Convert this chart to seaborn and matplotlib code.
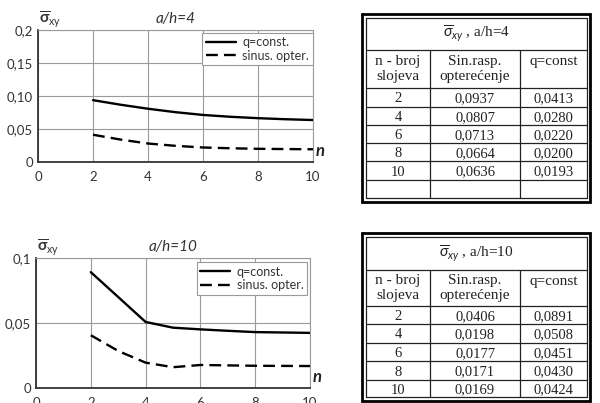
# Shear stress sigma_xy vs number of layers n, for a/h=4 and a/h=10, with value tables.

import matplotlib
matplotlib.use("Agg")
import matplotlib.pyplot as plt
import seaborn as sns

# curves (n = number of layers)
n_layers = [2, 3, 4, 5, 6, 7, 8, 9, 10]
q_const_ah4 = [0.0937, 0.0868, 0.0807, 0.0755, 0.0713, 0.0685, 0.0664, 0.0648, 0.0636]
sinus_ah4 = [0.0413, 0.0340, 0.0280, 0.0245, 0.0220, 0.0208, 0.0200, 0.0196, 0.0193]
q_const_ah10 = [0.0891, 0.0700, 0.0508, 0.0464, 0.0451, 0.0440, 0.0430, 0.0427, 0.0424]
sinus_ah10 = [0.0406, 0.0285, 0.0195, 0.0160, 0.0177, 0.0174, 0.0171, 0.0170, 0.0169]

x_ticks = [0, 2, 4, 6, 8, 10]
y_ticks_ah4 = [0, 0.05, 0.10, 0.15, 0.2]
y_labels_ah4 = ["0", "0,05", "0,10", "0,15", "0,2"]
y_ticks_ah10 = [0, 0.05, 0.1]
y_labels_ah10 = ["0", "0,05", "0,1"]

# tables
table_n = ["2", "4", "6", "8", "10"]
table_sin_ah4 = ["0,0937", "0,0807", "0,0713", "0,0664", "0,0636"]
table_q_ah4 = ["0,0413", "0,0280", "0,0220", "0,0200", "0,0193"]
table_sin_ah10 = ["0,0406", "0,0198", "0,0177", "0,0171", "0,0169"]
table_q_ah10 = ["0,0891", "0,0508", "0,0451", "0,0430", "0,0424"]

sns.set_style("white")
plt.rcParams["font.family"] = ["Lato", "DejaVu Sans"]
plt.rcParams["mathtext.fontset"] = "custom"
plt.rcParams["mathtext.rm"] = "Lato"
plt.rcParams["mathtext.it"] = "Lato:italic"
plt.rcParams["mathtext.bf"] = "Lato:bold"

W, H = 600, 403
fig = plt.figure(figsize=(6.0, 4.03), dpi=100)


def px_axes(left, top, right, bottom):
    return fig.add_axes([left / W, 1 - bottom / H, (right - left) / W, (bottom - top) / H])


def draw_chart(ax, q_vals, s_vals, yticks, ylabels, ymax, title, legend_anchor):
    sns.lineplot(x=n_layers, y=q_vals, ax=ax, color="black", linewidth=1.7, label="q=const.")
    sns.lineplot(x=n_layers, y=s_vals, ax=ax, color="black", linewidth=1.7, label="sinus. opter.")
    ax.lines[1].set_dashes([5, 2.6])
    ax.set_xlim(0, 10)
    ax.set_ylim(0, ymax)
    ax.set_xticks(x_ticks)
    ax.set_xticklabels([str(t) for t in x_ticks])
    ax.set_yticks(yticks)
    ax.set_yticklabels(ylabels)
    ax.grid(True, color="#9a9a9a", linewidth=0.8)
    ax.tick_params(labelsize=9.5, colors="#333333", length=0, pad=3.5)
    ax.tick_params(axis="x", pad=6.5)
    for side in ["left", "bottom"]:
        ax.spines[side].set_color("#333333")
        ax.spines[side].set_linewidth(1.3)
    for side in ["top", "right"]:
        ax.spines[side].set_color("#9a9a9a")
        ax.spines[side].set_linewidth(0.8)
    ax.set_xlabel("")
    ax.set_ylabel("")
    ax.set_title(title, fontsize=11, style="italic", color="#333333", pad=5)
    ax.text(0.005, 1.0, r"$\overline{\mathbf{\sigma}}_{\mathregular{xy}}$", transform=ax.transAxes,
            ha="left", va="bottom", fontsize=11, color="#333333")
    ax.text(1.01, 0.02, "n", transform=ax.transAxes, ha="left", va="bottom",
            fontsize=12, fontweight="bold", style="italic", color="#222222")
    leg = ax.legend(loc="upper right", bbox_to_anchor=legend_anchor, frameon=True, fancybox=False,
                    edgecolor="#9a9a9a", framealpha=1, fontsize=9, handlelength=2.4,
                    borderaxespad=0, borderpad=0.3, labelspacing=0.1, handletextpad=0.5)
    leg.get_frame().set_linewidth(0.8)
    for t in leg.get_texts():
        t.set_color("#333333")


ax1 = px_axes(38, 30, 313, 162)
draw_chart(ax1, q_const_ah4, sinus_ah4, y_ticks_ah4, y_labels_ah4, 0.2, "a/h=4", (1.0, 0.98))

ax2 = px_axes(36, 258, 310, 388)
draw_chart(ax2, q_const_ah10, sinus_ah10, y_ticks_ah10, y_labels_ah10, 0.1, "a/h=10", (0.99, 0.97))

# overlay in pixel coordinates for the two tables
ov = fig.add_axes([0, 0, 1, 1])
ov.set_xlim(0, W)
ov.set_ylim(H, 0)
ov.axis("off")

serif = ["Liberation Serif", "DejaVu Serif"]
fs = 11


def draw_table(top, row_lines, bottom, title, sin_vals, q_vals, extra_row):
    xl, xr = 366, 587
    c1, c2 = 430, 520
    # double border
    ov.plot([362, 590, 590, 362, 362], [top - 4, top - 4, bottom + 4, bottom + 4, top - 4],
            color="black", linewidth=2.0, solid_joinstyle="miter")
    ov.plot([xl, xr, xr, xl, xl], [top, top, bottom, bottom, top], color="#222222", linewidth=0.9)
    for y in row_lines:
        ov.plot([xl, xr], [y, y], color="#222222", linewidth=0.9)
    for x in [c1, c2]:
        ov.plot([x, x], [row_lines[0], bottom], color="#222222", linewidth=0.9)
    # title row
    ov.text((xl + xr) / 2, (top + row_lines[0]) / 2,
            r"$\overline{\sigma}_{xy}$" + " , " + title, family=serif, fontsize=fs,
            ha="center", va="center", color="#222222")
    # header row
    h_top, h_bot = row_lines[0], row_lines[1]
    ov.text((xl + c1) / 2, (h_top + h_bot) / 2, "n - broj\nslojeva", family=serif, fontsize=fs,
            ha="center", va="center", linespacing=1.15, color="#222222")
    ov.text((c1 + c2) / 2, (h_top + h_bot) / 2, "Sin.rasp.\nopterećenje", family=serif, fontsize=fs,
            ha="center", va="center", linespacing=1.15, color="#222222")
    ov.text((c2 + xr) / 2, h_top + 11, "q=const", family=serif, fontsize=fs,
            ha="center", va="center", color="#222222")
    # data rows
    edges = row_lines[1:] + ([] if extra_row else [bottom])
    for i in range(len(table_n)):
        yc = (edges[i] + edges[i + 1]) / 2
        for xc, txt in [((xl + c1) / 2, table_n[i]), ((c1 + c2) / 2, sin_vals[i]), ((c2 + xr) / 2, q_vals[i])]:
            ov.text(xc, yc, txt, family=serif, fontsize=10.5, ha="center", va="center_baseline",
                    color="#222222")


draw_table(18, [50, 88, 107, 125, 143, 161, 180], 198, "a/h=4", table_sin_ah4, table_q_ah4, True)
draw_table(237, [270, 306, 324, 343, 361, 380], 397, "a/h=10", table_sin_ah10, table_q_ah10, False)

fig.savefig("out.png", dpi=100)
plt.close(fig)
